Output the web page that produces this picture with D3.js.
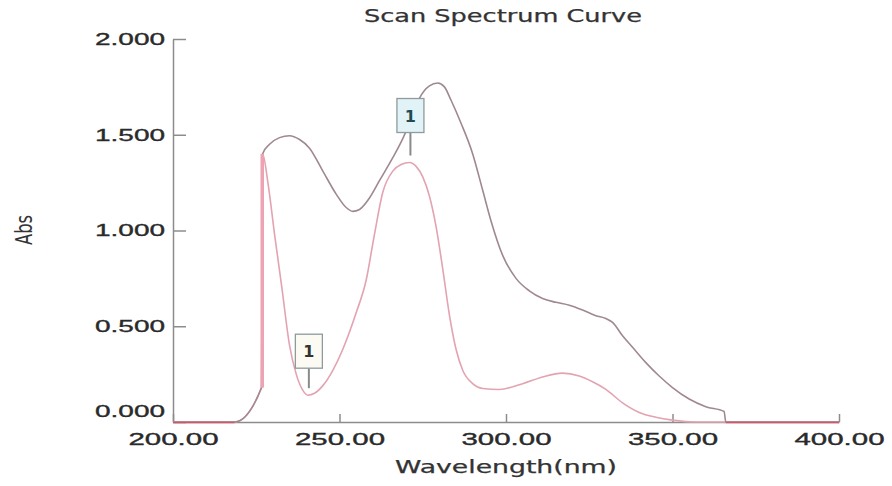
<!DOCTYPE html>
<html>
<head>
<meta charset="utf-8">
<script src="https://cdn.jsdelivr.net/npm/d3@7"></script>
<style>
  body { margin: 0; background: #fff; }
  svg { display: block; font-family: "DejaVu Sans", Verdana, sans-serif; }
  .axis path, .axis line { stroke: #8c8c8c; stroke-width: 1.5; }
  .axis text { fill: #2a2a2a; font-size: 17px; stroke: #2a2a2a; stroke-width: 0.35; }
</style>
</head>
<body>
<svg width="892" height="486"></svg>
<script>
window.onload = function () {
var svg = d3.select('svg');

// wavelength (nm), absorbance
var upperWl  = [200, 218.5, 226.6, 226.9, 229, 232, 235, 238, 241, 245, 249, 252, 254, 256, 259, 262, 266, 269, 271.5, 274, 277, 279.5, 281.5, 283.5, 286.5, 290, 293, 295.5, 299, 303, 307, 311, 315, 319, 323, 327, 330, 332, 335, 338, 342, 346, 350, 355, 360, 365.5, 366, 400];
var upperAbs = [0, 0, 0.18, 1.40, 1.45, 1.485, 1.495, 1.475, 1.43, 1.31, 1.19, 1.12, 1.10, 1.11, 1.17, 1.26, 1.38, 1.48, 1.58, 1.69, 1.755, 1.77, 1.75, 1.68, 1.56, 1.40, 1.21, 1.05, 0.87, 0.75, 0.685, 0.645, 0.625, 0.61, 0.585, 0.555, 0.54, 0.52, 0.45, 0.39, 0.31, 0.24, 0.18, 0.12, 0.08, 0.055, 0, 0];

var lowerWl  = [200, 218.5, 226.6, 226.9, 228.5, 230.5, 232.7, 235, 237, 239, 240.5, 242.5, 245, 248, 251, 255, 258, 260.5, 263, 266, 268.5, 271, 273, 275, 277, 279, 281, 283, 285, 287, 290, 293, 298, 305, 311, 317, 322, 326, 330, 335, 340, 345, 350, 357, 400];
var lowerAbs = [0, 0, 0.18, 1.40, 1.25, 0.98, 0.70, 0.40, 0.25, 0.165, 0.14, 0.15, 0.19, 0.27, 0.38, 0.57, 0.74, 0.98, 1.20, 1.31, 1.345, 1.355, 1.335, 1.28, 1.18, 1.02, 0.80, 0.56, 0.38, 0.27, 0.20, 0.175, 0.17, 0.20, 0.235, 0.255, 0.24, 0.21, 0.17, 0.10, 0.05, 0.025, 0.01, 0, 0];

var zeroRanges = [[200, 218.5], [366, 400]];

var markerWl  = [240.5, 271];
var markerAbs = [0.14, 1.355];
var markerText = ['1', '1'];

var xTicks = [200, 250, 300, 350, 400];
var yTicks = [0, 0.5, 1.0, 1.5, 2.0];

var x = d3.scaleLinear().domain([200, 400]).range([173, 839]);
var y = d3.scaleLinear().domain([0, 2]).range([422, 39]);

// axes
var xAxis = svg.append('g')
  .attr('class', 'axis')
  .attr('transform', 'translate(0,' + y(0) + ')')
  .call(d3.axisBottom(x).tickValues(xTicks).tickSizeInner(-8).tickSizeOuter(0).tickPadding(11).tickFormat(d3.format('.2f')));
xAxis.selectAll('text')
  .attr('textLength', 90)
  .attr('lengthAdjust', 'spacingAndGlyphs');

var yAxis = svg.append('g')
  .attr('class', 'axis')
  .attr('transform', 'translate(' + x(200) + ',0)')
  .call(d3.axisLeft(y).tickValues(yTicks).tickSizeInner(-13).tickSizeOuter(0).tickPadding(8).tickFormat(d3.format('.3f')));
yAxis.selectAll('.tick line').attr('stroke', '#b0b0b0');
yAxis.selectAll('text')
  .attr('textLength', 70)
  .attr('lengthAdjust', 'spacingAndGlyphs');
yAxis.selectAll('.tick').filter(function (d) { return d === 0; })
  .select('text').attr('y', -11);
xAxis.select('.domain').raise();

// curves
var line = d3.line()
  .x(function (d) { return x(d[0]); })
  .y(function (d) { return y(d[1]); })
  .curve(d3.curveMonotoneX);

svg.append('path')
  .datum(d3.zip(lowerWl, lowerAbs))
  .attr('d', line)
  .attr('fill', 'none')
  .attr('stroke', '#e3a3b0')
  .attr('stroke-width', 1.6);

svg.append('path')
  .datum(d3.zip(upperWl, upperAbs))
  .attr('d', line)
  .attr('fill', 'none')
  .attr('stroke', '#a08891')
  .attr('stroke-width', 1.6);

// spike edge shared by both scans
svg.append('line')
  .attr('x1', x(226.8)).attr('x2', x(226.8))
  .attr('y1', y(0.18)).attr('y2', y(1.40))
  .attr('stroke', '#eea3b3')
  .attr('stroke-width', 3.5);

svg.selectAll('.zero')
  .data(zeroRanges)
  .enter().append('line')
  .attr('x1', function (d) { return x(d[0]); })
  .attr('x2', function (d) { return x(d[1]); })
  .attr('y1', y(0) + 0.5).attr('y2', y(0) + 0.5)
  .attr('stroke', '#cc5a68')
  .attr('stroke-width', 1.4);

// peak / valley markers
var boxW = 27, boxH = 34;
var markers = svg.selectAll('.marker')
  .data(d3.range(markerWl.length))
  .enter().append('g')
  .attr('transform', function (i) {
    return 'translate(' + x(markerWl[i]) + ',' + y(markerAbs[i]) + ')';
  });

markers.append('line')
  .attr('x1', 1).attr('x2', 1)
  .attr('y1', -7)
  .attr('y2', function (i) { return i === 1 ? -30 : -27; })
  .attr('stroke', '#8a8a8a')
  .attr('stroke-width', 2);

markers.append('rect')
  .attr('x', -boxW / 2 + 1)
  .attr('y', function (i) { return (i === 1 ? -30 : -27) - boxH; })
  .attr('width', boxW)
  .attr('height', boxH)
  .attr('fill', function (i) { return i === 1 ? '#e1f3f7' : '#fbfbf3'; })
  .attr('stroke', '#8f9a9c')
  .attr('stroke-width', 1.3);

markers.append('text')
  .attr('x', 1)
  .attr('y', function (i) { return (i === 1 ? -30 : -27) - boxH / 2 + 6; })
  .attr('text-anchor', 'middle')
  .attr('font-size', 16)
  .attr('font-weight', 'bold')
  .attr('fill', function (i) { return i === 1 ? '#1f4b52' : '#333'; })
  .text(function (i) { return markerText[i]; });

// titles
svg.append('text')
  .attr('x', 503).attr('y', 22)
  .attr('text-anchor', 'middle')
  .attr('font-size', 17)
  .attr('fill', '#333')
  .attr('stroke', '#333').attr('stroke-width', 0.25)
  .attr('textLength', 278)
  .attr('lengthAdjust', 'spacingAndGlyphs')
  .text('Scan Spectrum Curve');

svg.append('text')
  .attr('x', 506).attr('y', 473)
  .attr('text-anchor', 'middle')
  .attr('font-size', 17)
  .attr('fill', '#333')
  .attr('stroke', '#333').attr('stroke-width', 0.25)
  .attr('textLength', 222)
  .attr('lengthAdjust', 'spacingAndGlyphs')
  .text('Wavelength(nm)');

svg.append('text')
  .attr('transform', 'translate(32,230) scale(1.3,1) rotate(-90)')
  .attr('text-anchor', 'middle')
  .attr('font-size', 17)
  .attr('fill', '#333')
  .attr('textLength', 30)
  .attr('lengthAdjust', 'spacingAndGlyphs')
  .text('Abs');
};
</script>
</body>
</html>
